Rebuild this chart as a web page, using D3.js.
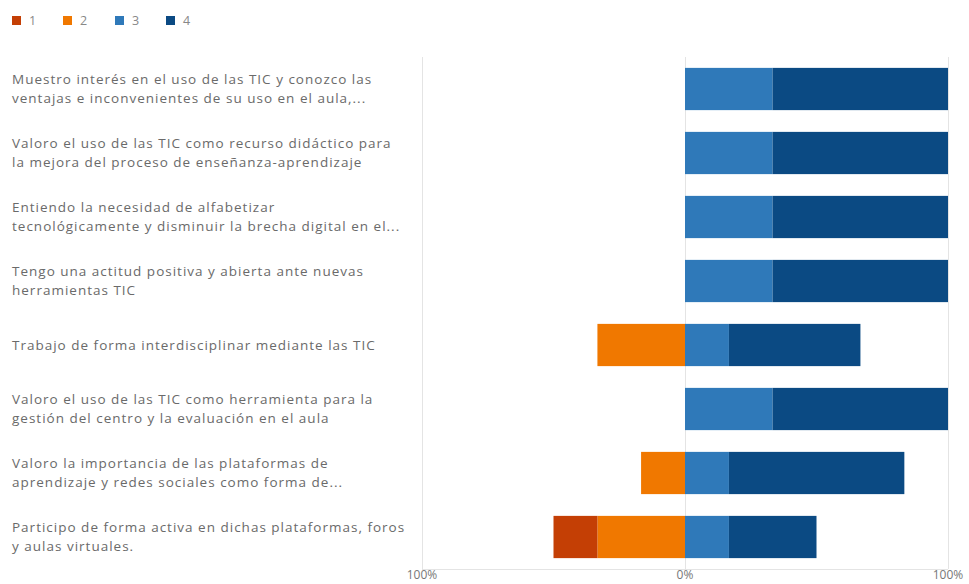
<!DOCTYPE html>
<html>
<head>
<meta charset="utf-8">
<script src="https://cdn.jsdelivr.net/npm/d3@7"></script>
<style>
  html, body { margin: 0; padding: 0; background: #fff; }
  svg { display: block; }
</style>
</head>
<body>
<svg id="chart" width="969" height="584"></svg>
<script>
const categories = [
  "Muestro interés en el uso de las TIC y conozco las\nventajas e inconvenientes de su uso en el aula,...",
  "Valoro el uso de las TIC como recurso didáctico para\nla mejora del proceso de enseñanza-aprendizaje",
  "Entiendo la necesidad de alfabetizar\ntecnológicamente y disminuir la brecha digital en el...",
  "Tengo una actitud positiva y abierta ante nuevas\nherramientas TIC",
  "Trabajo de forma interdisciplinar mediante las TIC",
  "Valoro el uso de las TIC como herramienta para la\ngestión del centro y la evaluación en el aula",
  "Valoro la importancia de las plataformas de\naprendizaje y redes sociales como forma de...",
  "Participo de forma activa en dichas plataformas, foros\ny aulas virtuales."
];
const seriesNames = ["1", "2", "3", "4"];
const s1 = [0, 0, 0, 0, 0, 0, 0, 16.7];
const s2 = [0, 0, 0, 0, 33.3, 0, 16.7, 33.3];
const s3 = [33.3, 33.3, 33.3, 33.3, 16.7, 33.3, 16.7, 16.7];
const s4 = [66.7, 66.7, 66.7, 66.7, 50, 66.7, 66.7, 33.3];
const tickValues = [-100, 0, 100];
const tickLabels = ["100%", "0%", "100%"];
const colors = ["#c43f05", "#f07800", "#2f79b9", "#0b4a83"];

const svg = d3.select("#chart");
const font = "'Open Sans', 'Noto Sans', sans-serif";

const x = d3.scaleLinear().domain([-100, 100]).range([422, 948]);
const y = d3.scaleBand().domain(d3.range(categories.length)).range([57, 569])
  .paddingInner(0.34).paddingOuter(0.17);

// grid
const grid = svg.append("g");
grid.selectAll("line.v").data(tickValues).join("line")
  .attr("x1", d => x(d) + 0.5).attr("x2", d => x(d) + 0.5)
  .attr("y1", 57).attr("y2", 569)
  .attr("stroke", "#e4e4e4").attr("stroke-width", 1);
grid.append("line")
  .attr("x1", x(-100)).attr("x2", x(100))
  .attr("y1", 569.5).attr("y2", 569.5)
  .attr("stroke", "#e4e4e4");

// segments
const segs = [];
categories.forEach((c, i) => {
  segs.push({ i, k: 1, x0: -s2[i], x1: 0 });
  segs.push({ i, k: 0, x0: -(s2[i] + s1[i]), x1: -s2[i] });
  segs.push({ i, k: 2, x0: 0, x1: s3[i] });
  segs.push({ i, k: 3, x0: s3[i], x1: s3[i] + s4[i] });
});
svg.append("g").selectAll("rect").data(segs.filter(d => d.x1 - d.x0 > 0)).join("rect")
  .attr("x", d => x(d.x0))
  .attr("width", d => x(d.x1) - x(d.x0))
  .attr("y", d => y(d.i))
  .attr("height", y.bandwidth())
  .attr("fill", d => colors[d.k]);

// category labels
const lab = svg.append("g");
categories.forEach((c, i) => {
  const lines = c.split("\n");
  const cy = y(i) + y.bandwidth() / 2;
  const lh = 19;
  const t = lab.append("text")
    .attr("font-family", font).attr("font-size", 13.5).attr("fill", "#6a6a6a")
    .attr("letter-spacing", "1px");
  lines.forEach((ln, j) => {
    t.append("tspan").attr("x", 12)
      .attr("y", cy + (j - (lines.length - 1) / 2) * lh)
      .attr("dy", "0.35em")
      .text(ln);
  });
});

// axis labels
svg.append("g").selectAll("text").data(tickValues).join("text")
  .attr("x", d => x(d))
  .attr("y", 579)
  .attr("text-anchor", "middle")
  .attr("font-family", font).attr("font-size", 12).attr("fill", "#777")
  .text((d, i) => tickLabels[i]);

// legend
const legX = [12, 63, 115, 166];
const leg = svg.append("g");
seriesNames.forEach((n, i) => {
  leg.append("rect").attr("x", legX[i]).attr("y", 16).attr("width", 9).attr("height", 9)
    .attr("fill", colors[i]);
  leg.append("text").attr("x", legX[i] + 17).attr("y", 20.5).attr("dy", "0.35em")
    .attr("font-family", font).attr("font-size", 12.5).attr("fill", "#888").text(n);
});
</script>
</body>
</html>
